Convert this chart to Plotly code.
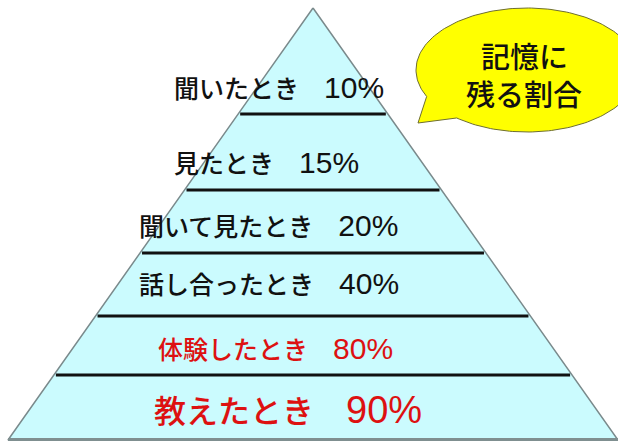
import numpy as np
import plotly.graph_objects as go

# ---- data ----
categories = ["聞いたとき", "見たとき", "聞いて見たとき", "話し合ったとき", "体験したとき", "教えたとき"]
values = [10, 15, 20, 40, 80, 90]
highlight = [False, False, False, False, True, True]
bubble_lines = ["記憶に", "残る割合"]

# ---- layout geometry (pixel-like coordinate system) ----
W, H = 618, 441
apex = (313, 8)
base_y = 440
base_half = 305
boundaries = [114, 190, 253, 316, 375]          # separators between layers
label_y = [87, 162, 225, 283, 348, 410]
label_x = [279, 266, 268, 269, 275, 288]
label_size = [25, 25, 25, 25, 25, 32]
digit_scale = 1.2
bubble_text_y = [55, 93]

FILL = "#CBFBFE"
RED = "#DD1111"


def half_width(y):
    return base_half * (y - apex[1]) / (base_y - apex[1])


fig = go.Figure()

# pyramid body
fig.add_trace(go.Scatter(
    x=[apex[0], apex[0] + base_half, apex[0] - base_half, apex[0]],
    y=[apex[1], base_y, base_y, apex[1]],
    mode="lines", fill="toself", fillcolor=FILL,
    line=dict(color="#7A8A8C", width=1.5), hoverinfo="skip", showlegend=False))
# base edge (thicker gray)
fig.add_trace(go.Scatter(
    x=[apex[0] - base_half, apex[0] + base_half], y=[base_y - 0.5, base_y - 0.5],
    mode="lines", line=dict(color="#7F8F90", width=3), hoverinfo="skip", showlegend=False))

# separators
for yb in boundaries:
    hw = half_width(yb) - 2
    fig.add_trace(go.Scatter(
        x=[apex[0] - hw, apex[0] + hw], y=[yb, yb], mode="lines",
        line=dict(color="#111111", width=3), hoverinfo="skip", showlegend=False))

# speech bubble
cx, cy, rx, ry = 527, 70, 111, 62
t = np.deg2rad(np.linspace(154.7, 489.3, 200))
bx = list(cx + rx * np.cos(t)) + [418]
by = list(cy + ry * np.sin(t)) + [123]
bx.append(bx[0])
by.append(by[0])
fig.add_trace(go.Scatter(
    x=bx, y=by, mode="lines", fill="toself", fillcolor="#FFFF00",
    line=dict(color="#6E6E30", width=1), hoverinfo="skip", showlegend=False))

annotations = []
for cat, v, hl, x, y, fs in zip(categories, values, highlight, label_x, label_y, label_size):
    txt = f"{cat}\u3000<span style='font-size:{round(fs * digit_scale)}px'>{v}%</span>"
    annotations.append(dict(
        x=x, y=y, xref="x", yref="y", text=txt, showarrow=False,
        xanchor="center", yanchor="middle",
        font=dict(family="Liberation Sans, Noto Sans CJK JP", size=fs,
                  color=RED if hl else "#111111", weight=500)))

for line, y in zip(bubble_lines, bubble_text_y):
    annotations.append(dict(
        x=524, y=y, xref="x", yref="y", text=line, showarrow=False,
        xanchor="center", yanchor="middle",
        font=dict(family="Noto Sans CJK JP", size=29, color="#111111", weight=500)))

fig.update_layout(
    width=W, height=H, margin=dict(l=0, r=0, t=0, b=0),
    paper_bgcolor="white", plot_bgcolor="white",
    xaxis=dict(range=[0, W], visible=False, fixedrange=True),
    yaxis=dict(range=[H, 0], visible=False, fixedrange=True),
    annotations=annotations, showlegend=False)

fig.write_html("out.html", config={"displayModeBar": False},
               post_script="document.body.style.margin='0';document.body.style.overflow='hidden';")
